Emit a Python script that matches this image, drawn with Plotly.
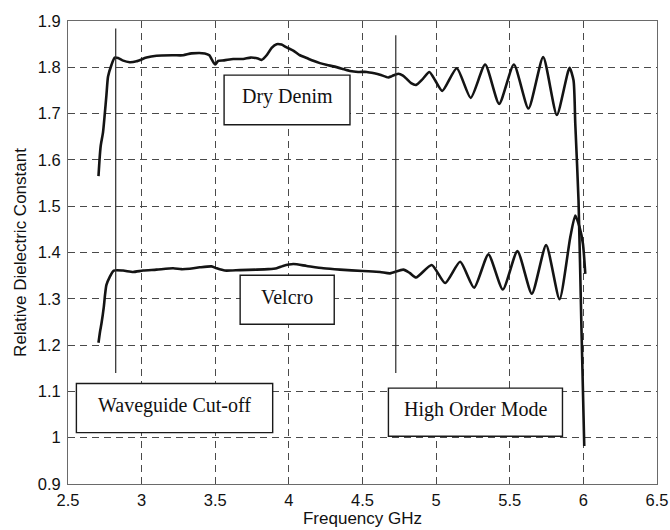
import plotly.graph_objects as go

# ---- data -------------------------------------------------------------
denim_x = [2.707, 2.714, 2.722, 2.738, 2.750, 2.761, 2.772, 2.795, 2.817, 2.840,
           2.870, 2.919, 2.965, 3.033, 3.101, 3.214, 3.282, 3.339, 3.429, 3.460,
           3.478, 3.500, 3.520, 3.560, 3.622, 3.690, 3.740, 3.790, 3.815, 3.849,
           3.883, 3.917, 3.950, 3.985, 4.030, 4.075, 4.121, 4.166, 4.211, 4.260,
           4.302, 4.360, 4.415, 4.470, 4.529, 4.580, 4.619, 4.675, 4.700, 4.743,
           4.775, 4.800, 4.830, 4.864, 4.910, 4.954, 4.993, 5.042, 5.140, 5.235,
           5.333, 5.428, 5.528, 5.627, 5.727, 5.820, 5.906, 5.933, 5.945, 5.967,
           5.986, 6.006]
denim_y = [1.565, 1.600, 1.630, 1.660, 1.700, 1.740, 1.780, 1.805, 1.821, 1.820,
           1.815, 1.811, 1.813, 1.821, 1.825, 1.826, 1.826, 1.830, 1.830, 1.826,
           1.816, 1.806, 1.814, 1.815, 1.818, 1.818, 1.821, 1.819, 1.816, 1.826,
           1.842, 1.850, 1.849, 1.843, 1.836, 1.826, 1.820, 1.814, 1.809, 1.805,
           1.802, 1.797, 1.792, 1.790, 1.790, 1.787, 1.784, 1.778, 1.781, 1.786,
           1.782, 1.775, 1.766, 1.762, 1.775, 1.790, 1.772, 1.749, 1.798, 1.734,
           1.806, 1.721, 1.806, 1.711, 1.822, 1.697, 1.799, 1.772, 1.678, 1.513,
           1.250, 0.982]

velcro_x = [2.707, 2.718, 2.727, 2.743, 2.752, 2.761, 2.783, 2.811, 2.874, 2.942,
            3.010, 3.101, 3.214, 3.270, 3.327, 3.395, 3.475, 3.509, 3.565, 3.667,
            3.781, 3.860, 3.917, 3.960, 4.030, 4.121, 4.234, 4.347, 4.505, 4.619,
            4.687, 4.777, 4.820, 4.864, 4.970, 5.061, 5.163, 5.258, 5.355, 5.453,
            5.552, 5.650, 5.747, 5.838, 5.911, 5.945, 5.974, 5.997, 6.013]
velcro_y = [1.205, 1.230, 1.246, 1.282, 1.310, 1.330, 1.347, 1.361, 1.361, 1.358,
            1.361, 1.363, 1.366, 1.364, 1.365, 1.368, 1.370, 1.366, 1.361, 1.362,
            1.363, 1.364, 1.366, 1.371, 1.375, 1.371, 1.366, 1.363, 1.360, 1.358,
            1.355, 1.363, 1.356, 1.346, 1.373, 1.334, 1.380, 1.324, 1.396, 1.320,
            1.403, 1.311, 1.416, 1.299, 1.433, 1.480, 1.455, 1.419, 1.354]

x_ticks = [2.5, 3, 3.5, 4, 4.5, 5, 5.5, 6, 6.5]
x_tick_labels = ["2.5", "3", "3.5", "4", "4.5", "5", "5.5", "6", "6.5"]
y_ticks = [0.9, 1.0, 1.1, 1.2, 1.3, 1.4, 1.5, 1.6, 1.7, 1.8, 1.9]
y_tick_labels = ["0.9", "1", "1.1", "1.2", "1.3", "1.4", "1.5", "1.6", "1.7", "1.8", "1.9"]

# vertical marker lines (frequency, y-bottom, y-top)
marker_freqs = [2.824, 4.726]
marker_bottoms = [1.140, 1.140]
marker_tops = [1.884, 1.869]

# labelled boxes: text, x0, x1, y0, y1
box_texts = ["Dry Denim", "Velcro", "Waveguide Cut-off", "High Order Mode"]
box_x0 = [3.560, 3.669, 2.557, 4.676]
box_x1 = [4.415, 4.308, 3.890, 5.858]
box_y0 = [1.676, 1.245, 1.011, 1.003]
box_y1 = [1.783, 1.351, 1.117, 1.107]

# ---- figure -----------------------------------------------------------
LINE = "#141414"
fig = go.Figure()
fig.add_trace(go.Scatter(x=denim_x, y=denim_y, mode="lines", name="Dry Denim",
                         line=dict(color=LINE, width=2.6, shape="spline", smoothing=0.6)))
fig.add_trace(go.Scatter(x=velcro_x, y=velcro_y, mode="lines", name="Velcro",
                         line=dict(color=LINE, width=2.6, shape="spline", smoothing=0.6)))

shapes = []
for fx, yb, yt in zip(marker_freqs, marker_bottoms, marker_tops):
    shapes.append(dict(type="line", xref="x", yref="y", x0=fx, x1=fx, y0=yb, y1=yt,
                       line=dict(color="#2a2a2a", width=1.2), layer="above"))
annotations = []
for t, a0, a1, b0, b1 in zip(box_texts, box_x0, box_x1, box_y0, box_y1):
    shapes.append(dict(type="rect", xref="x", yref="y", x0=a0, x1=a1, y0=b0, y1=b1,
                       line=dict(color="#1a1a1a", width=1.4), fillcolor="white", layer="above"))
    annotations.append(dict(x=(a0 + a1) / 2, y=(b0 + b1) / 2, xref="x", yref="y",
                            text=t, showarrow=False, yshift=3,
                            font=dict(family="Liberation Serif, Times New Roman, serif",
                                      size=20, color="#111")))

axis_common = dict(showgrid=True, gridcolor="#4a4a4a", gridwidth=1, griddash="7px,5px",
                   showline=True, mirror=True, linecolor="#6a6a6a", linewidth=1,
                   zeroline=False, ticks="", automargin=False,
                   tickfont=dict(family="Liberation Sans, Arial, sans-serif", size=16.5, color="#111"))

fig.update_layout(
    template="none",
    width=670, height=530,
    margin=dict(l=68, r=13, t=21, b=46),
    plot_bgcolor="white", paper_bgcolor="white",
    showlegend=False,
    shapes=shapes,
    annotations=annotations,
    xaxis=dict(range=[2.5, 6.5], tickvals=x_ticks, ticktext=x_tick_labels,
               ticklabelstandoff=1,
               title=dict(text="Frequency GHz", standoff=4,
                          font=dict(family="Liberation Sans, Arial, sans-serif", size=17, color="#111")),
               **axis_common),
    yaxis=dict(range=[0.9, 1.9], tickvals=y_ticks, ticktext=y_tick_labels,
               ticklabelstandoff=3,
               title=dict(text="Relative Dielectric Constant", standoff=6,
                          font=dict(family="Liberation Sans, Arial, sans-serif", size=17, color="#111")),
               **axis_common),
)

fig.write_html("out.html")
